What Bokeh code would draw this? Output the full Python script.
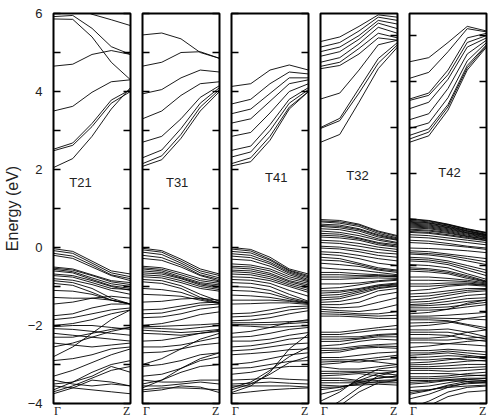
from bokeh.plotting import figure
from bokeh.layouts import row
from bokeh.models import FixedTicker, LinearAxis, Range1d, Label
from bokeh.embed import file_html
from bokeh.resources import INLINE

# k-path sample points (Gamma -> Z)
K = [0.0, 0.25, 0.5, 0.75, 1.0]
x_tick_labels = ["\u0393", "Z"]
panel_names = ["T21", "T31", "T41", "T32", "T42"]

# ---------------- T21 ----------------
c21 = [
    [6.40, 6.20, 5.98, 5.84, 5.69],
    [5.92, 5.95, 5.62, 5.15, 4.95],
    [5.86, 5.85, 5.40, 4.75, 4.30],
    [4.65, 4.70, 4.95, 5.05, 4.95],
    [3.50, 3.62, 3.98, 4.25, 4.30],
    [2.52, 2.68, 3.18, 3.78, 4.05],
    [2.48, 2.62, 3.10, 3.70, 4.00],
    [2.05, 2.28, 2.85, 3.55, 4.10],
]
v21 = [
    [-0.03, -0.10, -0.35, -0.60, -0.68],
    [-0.08, -0.15, -0.40, -0.65, -0.75],
    [-0.15, -0.22, -0.45, -0.70, -0.80],
    [-0.20, -0.28, -0.50, -0.72, -0.85],
    [-0.50, -0.55, -0.70, -0.85, -0.90],
    [-0.53, -0.58, -0.72, -0.88, -0.95],
    [-0.56, -0.62, -0.78, -0.93, -1.00],
    [-0.60, -0.65, -0.82, -0.98, -1.05],
    [-0.68, -0.72, -0.85, -1.00, -1.10],
    [-0.72, -0.76, -0.90, -1.05, -1.08],
    [-0.80, -0.84, -0.95, -1.10, -1.20],
    [-0.85, -0.90, -1.05, -1.30, -1.45],
    [-0.92, -0.97, -1.15, -1.35, -1.45],
    [-1.10, -1.12, -1.20, -1.35, -1.45],
    [-1.28, -1.30, -1.30, -1.35, -1.45],
    [-1.45, -1.40, -1.30, -1.25, -1.30],
    [-1.75, -1.70, -1.55, -1.45, -1.45],
    [-1.85, -1.80, -1.70, -1.60, -1.55],
    [-2.00, -1.95, -1.85, -1.70, -1.60],
    [-2.03, -2.00, -2.00, -2.05, -2.10],
    [-2.08, -2.10, -2.15, -2.20, -2.25],
    [-2.20, -2.25, -2.30, -2.35, -2.40],
    [-2.30, -2.30, -2.20, -2.10, -2.05],
    [-2.45, -2.50, -2.55, -2.50, -2.45],
    [-2.55, -2.45, -2.30, -2.15, -2.05],
    [-2.80, -2.55, -2.20, -1.85, -1.60],
    [-2.90, -2.85, -2.75, -2.60, -2.55],
    [-3.30, -3.15, -2.95, -2.75, -2.60],
    [-3.40, -3.50, -3.55, -3.50, -3.55],
    [-3.50, -3.45, -3.30, -3.05, -3.20],
    [-3.55, -3.60, -3.65, -3.70, -3.75],
    [-3.65, -3.45, -3.20, -3.00, -2.90],
    [-3.70, -3.55, -3.35, -3.15, -3.05],
    [-3.75, -3.60, -3.40, -3.45, -3.55],
]

# ---------------- T31 ----------------
c31 = [
    [5.45, 5.50, 5.35, 5.00, 4.85],
    [4.65, 4.75, 5.00, 5.02, 4.85],
    [3.94, 4.05, 4.35, 4.55, 4.50],
    [3.30, 3.50, 3.90, 4.20, 4.25],
    [2.70, 2.85, 3.30, 3.85, 4.15],
    [2.30, 2.50, 3.05, 3.70, 4.10],
    [2.15, 2.35, 2.90, 3.60, 4.05],
    [2.08, 2.25, 2.80, 3.50, 4.00],
]
v31 = [
    [-0.02, -0.08, -0.30, -0.55, -0.68],
    [-0.06, -0.12, -0.35, -0.60, -0.72],
    [-0.12, -0.18, -0.40, -0.65, -0.78],
    [-0.20, -0.26, -0.45, -0.70, -0.82],
    [-0.28, -0.33, -0.50, -0.72, -0.86],
    [-0.48, -0.52, -0.65, -0.80, -0.88],
    [-0.52, -0.56, -0.70, -0.85, -0.92],
    [-0.55, -0.60, -0.75, -0.90, -0.96],
    [-0.60, -0.64, -0.78, -0.93, -1.00],
    [-0.65, -0.68, -0.80, -0.96, -1.04],
    [-0.70, -0.73, -0.85, -1.00, -1.08],
    [-0.75, -0.78, -0.90, -1.05, -1.12],
    [-0.82, -0.85, -0.98, -1.20, -1.38],
    [-0.88, -0.92, -1.05, -1.28, -1.42],
    [-1.05, -1.08, -1.15, -1.32, -1.42],
    [-1.20, -1.22, -1.25, -1.35, -1.44],
    [-1.40, -1.38, -1.32, -1.30, -1.35],
    [-1.60, -1.58, -1.50, -1.42, -1.40],
    [-1.70, -1.68, -1.58, -1.48, -1.45],
    [-1.80, -1.78, -1.70, -1.58, -1.52],
    [-2.00, -1.95, -1.85, -1.72, -1.65],
    [-2.03, -2.02, -2.00, -1.98, -1.95],
    [-2.06, -2.08, -2.10, -2.05, -2.00],
    [-2.12, -2.15, -2.18, -2.15, -2.10],
    [-2.20, -2.22, -2.25, -2.20, -2.15],
    [-2.40, -2.38, -2.30, -2.20, -2.12],
    [-2.55, -2.55, -2.50, -2.40, -2.30],
    [-2.70, -2.68, -2.60, -2.50, -2.45],
    [-3.00, -2.85, -2.60, -2.35, -2.20],
    [-3.05, -3.00, -2.90, -2.75, -2.70],
    [-3.30, -3.25, -3.10, -2.90, -2.80],
    [-3.40, -3.45, -3.45, -3.40, -3.40],
    [-3.50, -3.40, -3.20, -3.05, -3.00],
    [-3.55, -3.55, -3.50, -3.45, -3.50],
    [-3.60, -3.40, -3.10, -2.85, -2.70],
    [-3.65, -3.60, -3.60, -3.62, -3.65],
    [-3.70, -3.65, -3.55, -3.58, -3.72],
]

# ---------------- T41 ----------------
c41 = [
    [4.13, 4.20, 4.55, 4.68, 4.55],
    [3.68, 3.80, 4.20, 4.50, 4.45],
    [3.43, 3.55, 3.95, 4.35, 4.35],
    [3.19, 3.30, 3.75, 4.20, 4.30],
    [2.85, 2.95, 3.45, 4.00, 4.20],
    [2.49, 2.60, 3.15, 3.80, 4.10],
    [2.32, 2.45, 3.00, 3.70, 4.05],
    [2.15, 2.30, 2.85, 3.60, 4.00],
    [2.09, 2.20, 2.75, 3.55, 4.00],
]
v41 = [
    [0.00, -0.05, -0.25, -0.55, -0.68],
    [-0.04, -0.09, -0.30, -0.58, -0.72],
    [-0.10, -0.14, -0.33, -0.60, -0.75],
    [-0.16, -0.20, -0.38, -0.63, -0.78],
    [-0.22, -0.26, -0.42, -0.66, -0.82],
    [-0.30, -0.33, -0.48, -0.70, -0.85],
    [-0.42, -0.45, -0.55, -0.75, -0.88],
    [-0.48, -0.50, -0.60, -0.80, -0.92],
    [-0.52, -0.55, -0.66, -0.85, -0.96],
    [-0.58, -0.60, -0.70, -0.88, -1.00],
    [-0.62, -0.65, -0.75, -0.92, -1.05],
    [-0.68, -0.70, -0.80, -0.96, -1.10],
    [-0.75, -0.77, -0.85, -1.00, -1.15],
    [-0.82, -0.84, -0.92, -1.10, -1.25],
    [-0.90, -0.92, -1.00, -1.20, -1.38],
    [-1.00, -1.02, -1.10, -1.28, -1.40],
    [-1.10, -1.12, -1.18, -1.32, -1.42],
    [-1.22, -1.24, -1.28, -1.36, -1.42],
    [-1.35, -1.35, -1.35, -1.38, -1.44],
    [-1.45, -1.44, -1.42, -1.42, -1.46],
    [-1.70, -1.68, -1.60, -1.52, -1.50],
    [-1.78, -1.76, -1.70, -1.60, -1.55],
    [-1.88, -1.86, -1.80, -1.70, -1.62],
    [-1.93, -1.93, -1.92, -1.90, -1.88],
    [-1.97, -1.98, -1.98, -1.95, -1.92],
    [-2.00, -2.02, -2.05, -2.03, -2.00],
    [-2.20, -2.15, -2.05, -1.92, -1.85],
    [-2.30, -2.28, -2.20, -2.10, -2.05],
    [-2.40, -2.40, -2.35, -2.25, -2.18],
    [-2.55, -2.52, -2.45, -2.35, -2.30],
    [-2.65, -2.62, -2.55, -2.48, -2.45],
    [-2.75, -2.72, -2.68, -2.62, -2.60],
    [-3.00, -2.95, -2.85, -2.75, -2.70],
    [-3.10, -3.08, -3.00, -2.92, -2.90],
    [-3.25, -3.20, -3.10, -3.05, -3.05],
    [-3.40, -3.38, -3.35, -3.38, -3.40],
    [-3.50, -3.48, -3.45, -3.48, -3.50],
    [-3.55, -3.55, -3.55, -3.55, -3.58],
    [-3.60, -3.45, -3.15, -2.80, -2.55],
    [-3.65, -3.50, -3.25, -2.95, -2.80],
    [-3.72, -3.55, -3.20, -2.60, -2.22],
    [-3.75, -3.70, -3.65, -3.62, -3.60],
]

# ---------------- T32 ----------------
c32 = [
    [3.87, 3.97, 4.20, 4.45, 4.40],
    [3.75, 3.85, 4.10, 4.40, 4.33],
    [3.65, 3.75, 4.00, 4.33, 4.25],
    [3.55, 3.65, 3.92, 4.27, 4.15],
    [3.42, 3.52, 3.82, 4.18, 4.05],
    [3.33, 3.42, 3.72, 4.05, 3.95],
    [3.28, 3.35, 3.60, 3.95, 3.90],
    [2.62, 2.75, 3.25, 3.80, 3.90],
    [2.00, 2.20, 2.85, 3.50, 3.85],
    [1.98, 2.15, 2.75, 3.40, 3.80],
    [1.68, 1.85, 2.55, 3.28, 3.75],
]
v32 = [
    [0.00, -0.02, -0.10, -0.25, -0.35],
    [-0.03, -0.05, -0.12, -0.27, -0.37],
    [-0.05, -0.08, -0.15, -0.30, -0.40],
    [-0.10, -0.12, -0.20, -0.33, -0.42],
    [-0.13, -0.15, -0.22, -0.35, -0.44],
    [-0.15, -0.18, -0.25, -0.38, -0.45],
    [-0.20, -0.22, -0.30, -0.42, -0.50],
    [-0.25, -0.28, -0.35, -0.45, -0.52],
    [-0.30, -0.32, -0.40, -0.50, -0.55],
    [-0.34, -0.36, -0.42, -0.52, -0.58],
    [-0.38, -0.40, -0.45, -0.55, -0.60],
    [-0.45, -0.47, -0.52, -0.60, -0.65],
    [-0.50, -0.52, -0.58, -0.65, -0.70],
    [-0.58, -0.60, -0.65, -0.72, -0.75],
    [-0.62, -0.64, -0.70, -0.78, -0.82],
    [-0.70, -0.72, -0.78, -0.85, -0.90],
    [-0.75, -0.78, -0.85, -0.95, -1.00],
    [-0.82, -0.85, -0.95, -1.05, -1.10],
    [-0.88, -0.90, -0.98, -1.08, -1.12],
    [-0.95, -0.98, -1.02, -1.10, -1.15],
    [-1.05, -1.08, -1.10, -1.15, -1.20],
    [-1.15, -1.15, -1.18, -1.20, -1.22],
    [-1.20, -1.20, -1.22, -1.22, -1.24],
    [-1.25, -1.25, -1.25, -1.23, -1.25],
    [-1.30, -1.30, -1.28, -1.27, -1.28],
    [-1.40, -1.40, -1.38, -1.33, -1.30],
    [-1.50, -1.48, -1.42, -1.35, -1.32],
    [-1.55, -1.55, -1.50, -1.42, -1.38],
    [-1.60, -1.58, -1.52, -1.44, -1.40],
    [-1.65, -1.63, -1.55, -1.45, -1.42],
    [-1.70, -1.68, -1.58, -1.48, -1.44],
    [-1.75, -1.72, -1.62, -1.50, -1.45],
    [-1.80, -1.78, -1.70, -1.55, -1.50],
    [-1.85, -1.85, -1.80, -1.65, -1.58],
    [-1.90, -1.92, -1.90, -1.80, -1.70],
    [-1.95, -1.98, -2.00, -1.95, -1.85],
    [-2.00, -2.02, -2.05, -2.05, -2.00],
    [-2.05, -2.06, -2.08, -2.10, -2.08],
    [-2.10, -2.10, -2.12, -2.15, -2.15],
    [-2.45, -2.45, -2.40, -2.35, -2.30],
    [-2.50, -2.50, -2.45, -2.40, -2.38],
    [-2.55, -2.55, -2.55, -2.50, -2.48],
    [-2.60, -2.60, -2.58, -2.52, -2.50],
    [-2.65, -2.65, -2.60, -2.55, -2.55],
    [-2.75, -2.72, -2.65, -2.60, -2.62],
    [-2.80, -2.80, -2.75, -2.72, -2.70],
    [-2.85, -2.84, -2.78, -2.75, -2.76],
    [-2.90, -2.88, -2.80, -2.78, -2.80],
    [-3.00, -3.00, -2.95, -2.90, -2.88],
    [-3.05, -3.05, -3.05, -3.00, -2.95],
    [-3.10, -3.08, -3.10, -3.05, -3.02],
    [-3.15, -3.12, -3.05, -3.10, -3.15],
    [-3.20, -3.25, -3.25, -3.20, -3.15],
    [-3.30, -3.30, -3.30, -3.28, -3.30],
    [-3.35, -3.34, -3.32, -3.34, -3.38],
    [-3.40, -3.38, -3.35, -3.40, -3.45],
    [-3.45, -3.45, -3.50, -3.45, -3.40],
    [-3.50, -3.50, -3.52, -3.50, -3.48],
    [-3.55, -3.55, -3.55, -3.55, -3.55],
    [-3.60, -3.62, -3.60, -3.58, -3.60],
    [-3.65, -3.64, -3.58, -3.52, -3.50],
    [-3.70, -3.65, -3.55, -3.45, -3.40],
    [-3.80, -3.70, -3.50, -3.35, -3.30],
    [-3.95, -3.75, -3.45, -3.25, -3.20],
    [-4.20, -3.95, -3.65, -3.40, -3.30],
    [-4.30, -4.05, -3.75, -3.55, -3.50],
]

# ---------------- T42 ----------------
c42 = [
    [3.43, 3.52, 3.85, 4.20, 4.10],
    [3.07, 3.20, 3.65, 4.15, 4.08],
    [2.62, 2.75, 3.25, 3.95, 4.05],
    [2.59, 2.70, 3.15, 3.85, 4.00],
    [2.41, 2.55, 3.05, 3.75, 3.95],
    [2.17, 2.30, 2.85, 3.60, 3.90],
    [1.98, 2.10, 2.65, 3.45, 3.85],
    [1.83, 1.97, 2.50, 3.35, 3.80],
    [1.75, 1.90, 2.45, 3.30, 3.78],
    [1.68, 1.82, 2.38, 3.25, 3.75],
]
v42 = [
    [0.02, -0.02, -0.10, -0.20, -0.28],
    [0.00, -0.03, -0.11, -0.21, -0.29],
    [-0.02, -0.05, -0.12, -0.22, -0.30],
    [-0.04, -0.07, -0.14, -0.24, -0.32],
    [-0.06, -0.08, -0.15, -0.25, -0.33],
    [-0.08, -0.10, -0.17, -0.26, -0.34],
    [-0.10, -0.12, -0.18, -0.28, -0.35],
    [-0.12, -0.14, -0.20, -0.29, -0.36],
    [-0.14, -0.16, -0.22, -0.30, -0.38],
    [-0.16, -0.18, -0.24, -0.32, -0.39],
    [-0.18, -0.20, -0.26, -0.34, -0.40],
    [-0.21, -0.23, -0.28, -0.36, -0.42],
    [-0.23, -0.25, -0.30, -0.37, -0.43],
    [-0.26, -0.28, -0.33, -0.39, -0.45],
    [-0.28, -0.30, -0.35, -0.41, -0.46],
    [-0.33, -0.35, -0.40, -0.45, -0.50],
    [-0.38, -0.40, -0.45, -0.50, -0.55],
    [-0.45, -0.47, -0.52, -0.58, -0.62],
    [-0.50, -0.52, -0.56, -0.60, -0.65],
    [-0.62, -0.63, -0.65, -0.68, -0.72],
    [-0.68, -0.70, -0.75, -0.80, -0.85],
    [-0.72, -0.74, -0.78, -0.85, -0.92],
    [-0.75, -0.77, -0.82, -0.90, -0.98],
    [-0.82, -0.84, -0.90, -1.00, -1.10],
    [-0.86, -0.88, -0.94, -1.05, -1.16],
    [-0.90, -0.92, -0.98, -1.10, -1.22],
    [-0.98, -1.00, -1.05, -1.18, -1.30],
    [-1.05, -1.07, -1.12, -1.22, -1.34],
    [-1.08, -1.10, -1.15, -1.25, -1.35],
    [-1.12, -1.14, -1.18, -1.28, -1.36],
    [-1.25, -1.25, -1.28, -1.32, -1.38],
    [-1.32, -1.32, -1.33, -1.35, -1.40],
    [-1.40, -1.40, -1.38, -1.38, -1.42],
    [-1.45, -1.45, -1.42, -1.40, -1.43],
    [-1.55, -1.52, -1.45, -1.42, -1.45],
    [-1.62, -1.60, -1.55, -1.50, -1.50],
    [-1.68, -1.66, -1.60, -1.54, -1.52],
    [-1.75, -1.72, -1.65, -1.58, -1.55],
    [-1.80, -1.78, -1.72, -1.65, -1.62],
    [-1.85, -1.83, -1.78, -1.72, -1.70],
    [-1.88, -1.87, -1.84, -1.78, -1.75],
    [-1.92, -1.92, -1.90, -1.85, -1.80],
    [-1.97, -1.97, -1.95, -1.90, -1.85],
    [-2.05, -2.02, -1.95, -1.82, -1.75],
    [-2.10, -2.10, -2.08, -2.05, -2.02],
    [-2.14, -2.14, -2.15, -2.16, -2.18],
    [-2.18, -2.18, -2.20, -2.28, -2.35],
    [-2.25, -2.24, -2.22, -2.30, -2.40],
    [-2.32, -2.30, -2.25, -2.15, -2.10],
    [-2.40, -2.40, -2.38, -2.45, -2.55],
    [-2.45, -2.45, -2.45, -2.52, -2.60],
    [-2.50, -2.50, -2.52, -2.60, -2.65],
    [-2.58, -2.58, -2.55, -2.45, -2.40],
    [-2.62, -2.62, -2.62, -2.58, -2.55],
    [-2.68, -2.68, -2.70, -2.72, -2.75],
    [-2.78, -2.75, -2.70, -2.65, -2.62],
    [-2.85, -2.85, -2.82, -2.85, -2.88],
    [-2.90, -2.90, -2.86, -2.90, -2.94],
    [-2.95, -2.93, -2.90, -2.95, -3.00],
    [-3.00, -2.99, -2.96, -2.98, -3.03],
    [-3.05, -3.05, -3.02, -3.05, -3.08],
    [-3.12, -3.10, -3.05, -3.00, -2.98],
    [-3.16, -3.15, -3.12, -3.08, -3.06],
    [-3.20, -3.20, -3.18, -3.15, -3.15],
    [-3.24, -3.24, -3.24, -3.22, -3.20],
    [-3.28, -3.28, -3.30, -3.28, -3.25],
    [-3.35, -3.35, -3.35, -3.38, -3.40],
    [-3.42, -3.42, -3.40, -3.35, -3.32],
    [-3.46, -3.46, -3.44, -3.40, -3.38],
    [-3.50, -3.50, -3.48, -3.45, -3.45],
    [-3.54, -3.52, -3.49, -3.48, -3.50],
    [-3.58, -3.55, -3.50, -3.52, -3.55],
    [-3.65, -3.62, -3.55, -3.48, -3.45],
    [-3.72, -3.70, -3.65, -3.62, -3.60],
    [-3.76, -3.71, -3.62, -3.57, -3.55],
    [-3.80, -3.72, -3.60, -3.52, -3.50],
    [-3.90, -3.80, -3.65, -3.55, -3.52],
    [-4.10, -3.95, -3.75, -3.65, -3.62],
    [-4.20, -4.05, -3.85, -3.75, -3.72],
]

bands = [c21 + v21, c31 + v31, c41 + v41, c32 + v32, c42 + v42]
y_spans = [(-4, 6), (-4, 6), (-4, 6), (-4, 4.48), (-4, 4.48)]
label_pos = [(0.35, 1.67), (0.45, 1.67), (0.58, 1.80), (0.48, 0.96), (0.52, 1.02)]

FONT = "Liberation Sans"
figs = []
for i in range(5):
    lo, hi = y_spans[i]
    f = figure(frame_width=77, frame_height=390,
               x_range=Range1d(0, 1), y_range=Range1d(lo, hi),
               output_backend="svg", toolbar_location=None,
               y_axis_location=None,
               min_border_left=53 if i == 0 else 6,
               min_border_right=6 if i < 4 else 3,
               min_border_top=13, min_border_bottom=14)
    f.grid.visible = False
    f.outline_line_color = "black"
    f.outline_line_width = 2
    f.outline_line_alpha = 1.0

    # x axis: Gamma and Z
    xa = f.xaxis[0]
    xa.ticker = FixedTicker(ticks=[0.05, 0.95])
    xa.major_label_overrides = {0.05: x_tick_labels[0], 0.95: x_tick_labels[1]}
    xa.axis_line_color = None
    xa.major_tick_line_color = None
    xa.minor_tick_line_color = None
    xa.major_tick_out = 0
    xa.major_tick_in = 0
    xa.major_label_standoff = 0
    xa.major_label_text_font = "Liberation Serif"
    xa.major_label_text_font_size = "12px"
    xa.major_label_text_color = "#222222"

    if i < 3:
        all_ticks = [-4, -3, -2, -1, 0, 1, 2, 3, 4, 5, 6]
    else:
        all_ticks = [-4, -3, -2, -1, 0, 1, 2, 3, 4]

    for side in ("left", "right"):
        if side == "left" and i == 0:
            ax = LinearAxis(ticker=FixedTicker(ticks=[-4, -2, 0, 2, 4, 6],
                                               minor_ticks=[-3, -1, 1, 3, 5]))
            ax.major_label_text_font = FONT
            ax.major_label_text_font_size = "13px"
            ax.major_label_standoff = 11
            ax.major_label_text_color = "#222222"
            ax.axis_label = "Energy (eV)"
            ax.axis_label_text_font = FONT
            ax.axis_label_text_font_size = "16px"
            ax.axis_label_text_font_style = "normal"
            ax.axis_label_standoff = 4
            ax.axis_label_text_color = "#222222"
        else:
            # tick marks only, no labels
            ax = LinearAxis(ticker=FixedTicker(ticks=[], minor_ticks=all_ticks))
            ax.major_label_standoff = 0
        ax.axis_line_color = None
        ax.major_tick_in = 7
        ax.major_tick_out = 0
        ax.minor_tick_in = 7
        ax.minor_tick_out = 0
        ax.major_tick_line_width = 1.5
        ax.minor_tick_line_width = 1.5
        ax.major_tick_line_color = "black"
        ax.minor_tick_line_color = "black"
        if side == "left" and i == 3:
            ax.major_tick_line_color = None
            ax.minor_tick_line_color = None
        f.add_layout(ax, side)

    bl = bands[i]
    f.multi_line(xs=[K] * len(bl), ys=bl, line_color="black", line_width=0.9)

    lx, ly = label_pos[i]
    f.add_layout(Label(x=lx, y=ly, text=panel_names[i], text_font=FONT,
                       text_font_size="13px", text_align="center",
                       text_baseline="middle", text_color="#222222"))
    figs.append(f)

p = row(figs)
open("out.html", "w").write(file_html(p, INLINE))
